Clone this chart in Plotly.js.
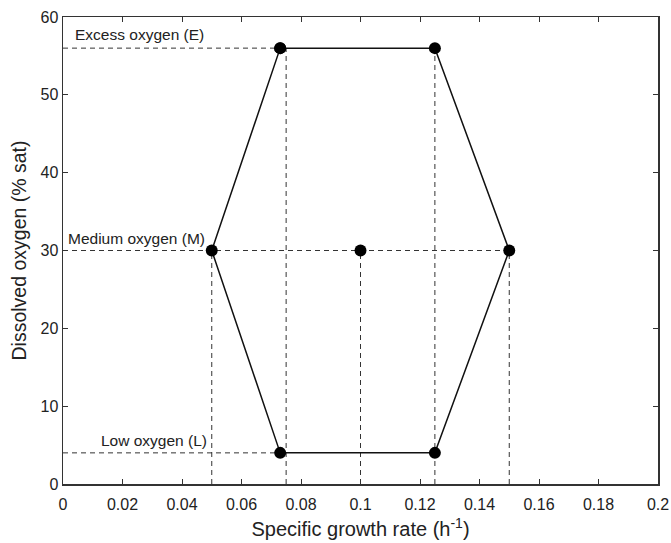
<!DOCTYPE html>
<html>
<head>
<meta charset="utf-8">
<script src="https://cdn.plot.ly/plotly-3.0.1.min.js"></script>
<style>html,body{margin:0;padding:0;background:#fff;}#chart{width:671px;height:543px;}</style>
</head>
<body>
<div id="chart"></div>
<script>
// Hexagon of operating points (growth rate, dissolved oxygen)
const hexX = [0.073, 0.125, 0.15, 0.125, 0.073, 0.05, 0.073];
const hexY = [56, 56, 30, 4, 4, 30, 56];
// Centre point
const centerX = [0.1];
const centerY = [30];
// Dashed guide lines (segments separated by null)
const guideX = [0, 0.073, null, 0, 0.15, null, 0, 0.073, null,
                0.05, 0.05, null, 0.075, 0.075, null, 0.1, 0.1, null,
                0.125, 0.125, null, 0.15, 0.15];
const guideY = [56, 56, null, 30, 30, null, 4, 4, null,
                0, 30, null, 0, 56, null, 0, 30, null,
                0, 56, null, 0, 30];
// Labels
const labelText = ["Excess oxygen (E)", "Medium oxygen (M)", "Low oxygen (L)"];
const labelX = [0.0035, 0.001, 0.012];
const labelY = [57.7, 31.6, 5.6];

const font = "Liberation Sans, Arial, sans-serif";

const traces = [
  {x: guideX, y: guideY, mode: 'lines', line: {color: '#333', width: 1, dash: '5px,4px'}, hoverinfo: 'skip', connectgaps: false},
  {x: hexX, y: hexY, mode: 'lines+markers', line: {color: '#111', width: 1.5}, marker: {color: '#000', size: 12}},
  {x: centerX, y: centerY, mode: 'markers', marker: {color: '#000', size: 12}}
];

const annotations = labelText.map((t, i) => ({
  x: labelX[i], y: labelY[i], xref: 'x', yref: 'y', text: t, showarrow: false,
  xanchor: 'left', yanchor: 'middle', font: {family: font, size: 15.5, color: '#222'}
}));

const layout = {
  width: 671, height: 543,
  margin: {l: 63, r: 13, t: 17, b: 59},
  paper_bgcolor: '#fff', plot_bgcolor: '#fff',
  showlegend: false,
  font: {family: font, color: '#222'},
  xaxis: {
    range: [0, 0.2], dtick: 0.02, tick0: 0,
    ticks: 'inside', ticklen: 5, tickcolor: '#333', tickwidth: 1,
    showline: true, linecolor: '#333', linewidth: 1.5, mirror: 'ticks',
    showgrid: false, zeroline: false, ticklabelstandoff: 5,
    tickfont: {family: font, size: 16, color: '#222'},
    title: {text: 'Specific growth rate (h<sup>-1</sup>)', font: {family: font, size: 20, color: '#222'}, standoff: 10}
  },
  yaxis: {
    range: [0, 60], dtick: 10, tick0: 0,
    ticks: 'inside', ticklen: 5, tickcolor: '#333', tickwidth: 1,
    showline: true, linecolor: '#333', linewidth: 1.5, mirror: 'ticks',
    showgrid: false, zeroline: false,
    tickfont: {family: font, size: 16, color: '#222'},
    title: {text: 'Dissolved oxygen (% sat)', font: {family: font, size: 19.5, color: '#222'}, standoff: 8}
  },
  annotations: annotations
};

Plotly.newPlot('chart', traces, layout, {displayModeBar: false, staticPlot: true});
</script>
</body>
</html>
